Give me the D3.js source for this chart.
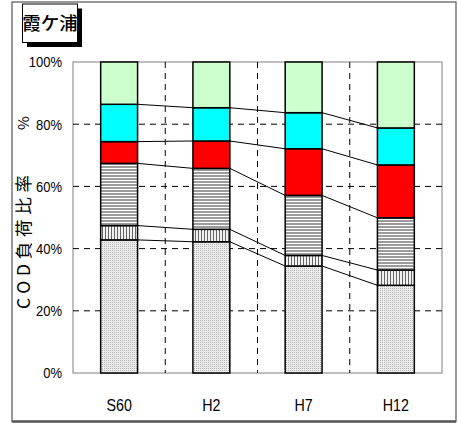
<!DOCTYPE html>
<html><head><meta charset="utf-8">
<script src="https://cdn.jsdelivr.net/npm/d3@7"></script>
<style>
html,body{margin:0;padding:0;background:#fff;}
svg{display:block;}
</style></head>
<body>
<script>
const categories = ["S60", "H2", "H7", "H12"];
const seriesKeys = ["dotted", "vstripe", "hstripe", "red", "cyan", "green"];
const dotted  = [42.8, 42.2, 34.4, 28.2];
const vstripe = [4.6, 4.0, 3.4, 4.9];
const hstripe = [20.0, 19.6, 19.3, 16.8];
const red     = [7.0, 8.8, 15.0, 17.0];
const cyan    = [12.0, 10.7, 11.6, 11.9];
const green   = [13.6, 14.7, 16.3, 21.2];
const yTicks = [0, 20, 40, 60, 80, 100];
const title = "霞ケ浦";
const yLabel = "COD負荷比率";

const W = 458, H = 424;
const svg = d3.select("body").append("svg").attr("width", W).attr("height", H);

// patterns
const defs = svg.append("defs");
const pd = defs.append("pattern").attr("id","pDots").attr("patternUnits","userSpaceOnUse").attr("width",2).attr("height",2);
pd.append("rect").attr("width",2).attr("height",2).attr("fill","#ececec");
pd.append("rect").attr("width",1).attr("height",1).attr("fill","#b4b4b4");
const pv = defs.append("pattern").attr("id","pV").attr("patternUnits","userSpaceOnUse").attr("width",3).attr("height",3);
pv.append("rect").attr("width",3).attr("height",3).attr("fill","#f2f2f2");
pv.append("rect").attr("width",1).attr("height",3).attr("fill","#666");
const ph = defs.append("pattern").attr("id","pH").attr("patternUnits","userSpaceOnUse").attr("width",3).attr("height",3);
ph.append("rect").attr("width",3).attr("height",3).attr("fill","#9c9c9c");
ph.append("rect").attr("width",3).attr("height",1).attr("fill","#ffffff");

const fills = {dotted:"url(#pDots)", vstripe:"url(#pV)", hstripe:"url(#pH)", red:"#ff0000", cyan:"#00ffff", green:"#ccffcc"};
const values = {dotted, vstripe, hstripe, red, cyan, green};

// outer frame
svg.append("rect").attr("x",12).attr("y",2).attr("width",444).attr("height",419.5)
  .attr("fill","none").attr("stroke","#555").attr("stroke-width",1.2);
svg.append("line").attr("x1",12).attr("x2",456).attr("y1",421.5).attr("y2",421.5)
  .attr("stroke","#555").attr("stroke-width",2.5);

const L = 73, R = 442, T = 62, B = 373;
const x = d3.scaleBand().domain(categories).range([L, R]).paddingInner(0.6).paddingOuter(0.3);
const y = d3.scaleLinear().domain([0, 100]).range([B, T]);

// plot area border
svg.append("rect").attr("x",L).attr("y",T).attr("width",R-L).attr("height",B-T)
  .attr("fill","none").attr("stroke","#808080").attr("stroke-width",1);

// gridlines
const grid = svg.append("g").attr("stroke","#000").attr("stroke-width",1).attr("stroke-dasharray","6,5");
grid.selectAll("line.h").data(yTicks.filter(d => d > 0 && d < 100)).join("line")
  .attr("x1", L).attr("x2", R).attr("y1", d => y(d)).attr("y2", d => y(d));
const step = x.step();
grid.selectAll("line.v").data(categories.slice(1)).join("line")
  .attr("x1", d => x(d) - (step - x.bandwidth())/2).attr("x2", d => x(d) - (step - x.bandwidth())/2)
  .attr("y1", T).attr("y2", B);

// stacked data
const table = categories.map((c, i) => {
  const o = {cat: c};
  seriesKeys.forEach(k => o[k] = values[k][i]);
  return o;
});
const stacked = d3.stack().keys(seriesKeys)(table);

// connector lines
const conn = svg.append("g").attr("stroke","#000").attr("stroke-width",1);
stacked.slice(0, seriesKeys.length - 1).forEach(layer => {
  for (let i = 0; i < categories.length - 1; i++) {
    conn.append("line")
      .attr("x1", x(categories[i]) + x.bandwidth()).attr("y1", y(layer[i][1]))
      .attr("x2", x(categories[i+1])).attr("y2", y(layer[i+1][1]));
  }
});

// bars
svg.append("g").selectAll("g").data(stacked).join("g")
  .attr("fill", d => fills[d.key])
  .selectAll("rect").data(d => d).join("rect")
  .attr("x", d => x(d.data.cat)).attr("width", x.bandwidth())
  .attr("y", d => y(d[1])).attr("height", d => y(d[0]) - y(d[1]))
  .attr("stroke", "#000").attr("stroke-width", 1.5);

// axes
const sx = 0.84;
const yAxis = svg.append("g").attr("transform", `translate(${L},0)`)
  .call(d3.axisLeft(y).tickValues(yTicks).tickSize(0).tickPadding(11).tickFormat(d => d + "%"));
yAxis.select(".domain").remove();
yAxis.selectAll("text").attr("font-family","'Liberation Sans',Arial,sans-serif")
  .attr("font-size", 15.5).attr("fill","#000")
  .attr("x", -11 / sx).attr("transform", `scale(${sx},1)`);

const xAxis = svg.append("g").attr("transform", `translate(0,${B})`)
  .call(d3.axisBottom(x).tickSize(0).tickPadding(26));
xAxis.select(".domain").remove();
xAxis.selectAll("text").attr("font-family","'Liberation Sans',Arial,sans-serif")
  .attr("font-size", 17).attr("fill","#000").attr("transform", `scale(${sx},1)`);

// y label
const yl = svg.append("g").attr("transform","translate(24,0) rotate(-90)");
yl.append("text").attr("x", -242).attr("y", 0).attr("dy","0.36em")
  .attr("text-anchor","middle").attr("font-family","'Noto Sans CJK JP',sans-serif")
  .attr("font-size",17.5).attr("textLength",134).attr("lengthAdjust","spacing").text(yLabel);
yl.append("text").attr("x", -123).attr("y", 0).attr("dy","0.36em")
  .attr("text-anchor","middle").attr("font-family","'Noto Sans CJK JP',sans-serif")
  .attr("font-size",15).text("%");

// title box
svg.append("rect").attr("x",27).attr("y",8.5).attr("width",55).attr("height",38.5).attr("fill","#000");
svg.append("rect").attr("x",22.5).attr("y",4).attr("width",55).attr("height",38.5)
  .attr("fill","#fff").attr("stroke","#000").attr("stroke-width",1);
svg.append("text").attr("x",50).attr("y",23.5).attr("dy","0.36em").attr("text-anchor","middle")
  .attr("font-family","'Noto Sans CJK JP',sans-serif").attr("font-weight","500")
  .attr("font-size",18.5).text(title);
</script>
</body></html>
